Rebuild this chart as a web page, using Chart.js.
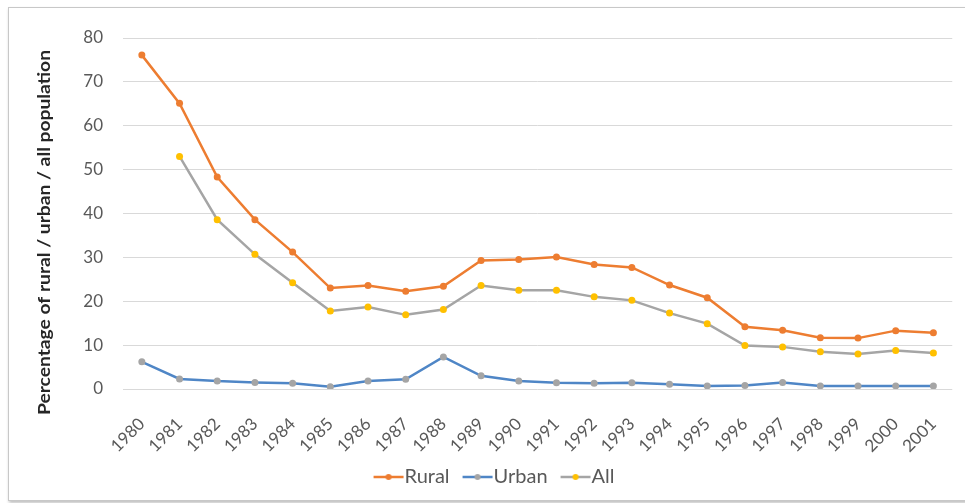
<!DOCTYPE html>
<html>
<head>
<meta charset="utf-8">
<script src="https://cdn.jsdelivr.net/npm/chart.js@4.4.1/dist/chart.umd.min.js"></script>
<style>
  html, body { margin: 0; padding: 0; background: #fff; width: 965px; height: 503px; overflow: hidden; }
  #frame { position: absolute; left: 8px; top: 7px; width: 980px; height: 492px;
           border: 1px solid #c8c8c8; box-shadow: 1px 2px 3px rgba(0,0,0,0.25); background: #fff; }
  #wrap { position: absolute; left: 0; top: 0; width: 965px; height: 503px; }
</style>
</head>
<body>
<div id="frame"></div>
<div id="wrap"><canvas id="chart"></canvas></div>
<script>
// Years on the category axis
const years = ['1980','1981','1982','1983','1984','1985','1986','1987','1988','1989','1990',
               '1991','1992','1993','1994','1995','1996','1997','1998','1999','2000','2001'];

// Share of each population group (%)
const rural = [76.1, 65.1, 48.3, 38.6, 31.2, 23.0, 23.6, 22.3, 23.4, 29.3, 29.5,
               30.1, 28.4, 27.7, 23.7, 20.8, 14.2, 13.4, 11.7, 11.6, 13.3, 12.8];
const urban = [6.2, 2.3, 1.8, 1.5, 1.3, 0.5, 1.8, 2.2, 7.3, 3.0, 1.8,
               1.4, 1.3, 1.4, 1.1, 0.7, 0.8, 1.5, 0.7, 0.7, 0.7, 0.7];
const allPop = [null, 53.0, 38.6, 30.7, 24.2, 17.8, 18.7, 16.9, 18.1, 23.6, 22.5,
                22.5, 21.0, 20.2, 17.3, 14.9, 9.9, 9.6, 8.5, 8.0, 8.8, 8.2];

// Value axis range
const yMin = 0, yMax = 80, yStep = 10;

const yTitle = 'Percentage of rural / urban / all population';
const FONT = 'Lato, "Open Sans", sans-serif';

const C_ORANGE = '#ED7D31';
const C_BLUE = '#4F86C6';
const C_GRAY = '#A5A5A5';
const C_GOLD = '#FFC000';

// Small line-with-marker swatches for the legend
function legendIcon(lineColor, dotColor) {
  const cv = document.createElement('canvas');
  cv.width = 60; cv.height = 10;
  const g = cv.getContext('2d');
  g.strokeStyle = lineColor; g.lineWidth = 2.5;
  g.beginPath(); g.moveTo(20, 5); g.lineTo(50, 5); g.stroke();
  g.fillStyle = dotColor;
  g.beginPath(); g.arc(35, 5, 3, 0, Math.PI * 2); g.fill();
  return cv;
}
const icons = [legendIcon(C_ORANGE, C_ORANGE), legendIcon(C_BLUE, C_GRAY), legendIcon(C_GRAY, C_GOLD)];

// Rotated value-axis title beside the tick labels, stretched to a fixed run length
const TITLE_LEN = 365;
const yTitlePlugin = {
  id: 'yTitle',
  afterDraw(chart) {
    const { ctx, chartArea } = chart;
    ctx.save();
    ctx.font = 'bold 17px ' + FONT;
    const w = ctx.measureText(yTitle).width;
    ctx.translate(chartArea.left - 78, (chartArea.top + chartArea.bottom) / 2 + 19);
    ctx.rotate(-Math.PI / 2);
    ctx.scale(TITLE_LEN / w, 1);
    ctx.fillStyle = '#262626';
    ctx.textAlign = 'center';
    ctx.textBaseline = 'middle';
    ctx.fillText(yTitle, 0, 0);
    ctx.restore();
  }
};

const common = { borderWidth: 2.5, pointRadius: 3.5, pointHoverRadius: 3.5, pointBorderWidth: 0, tension: 0 };

new Chart(document.getElementById('chart'), {
  type: 'line',
  data: {
    labels: years,
    datasets: [
      Object.assign({ label: 'Rural', data: rural, borderColor: C_ORANGE, pointBackgroundColor: C_ORANGE, pointBorderColor: C_ORANGE }, common),
      Object.assign({ label: 'Urban', data: urban, borderColor: C_BLUE, pointBackgroundColor: C_GRAY, pointBorderColor: C_GRAY }, common),
      Object.assign({ label: 'All', data: allPop, borderColor: C_GRAY, pointBackgroundColor: C_GOLD, pointBorderColor: C_GOLD }, common)
    ]
  },
  options: {
    responsive: true,
    maintainAspectRatio: false,
    animation: false,
    layout: { padding: { left: 30, right: 8, top: 38, bottom: 6 } },
    scales: {
      x: {
        offset: true,
        grid: { display: false },
        border: { display: false },
        ticks: { color: '#595959', font: { family: FONT, size: 17 }, minRotation: 45, maxRotation: 45, padding: 17, autoSkip: false },
        afterFit(s) { s.height = 66; }
      },
      y: {
        min: yMin, max: yMax,
        grid: { color: '#D9D9D9', lineWidth: 1, drawTicks: false },
        border: { display: false },
        ticks: { stepSize: yStep, color: '#595959', font: { family: FONT, size: 17 }, padding: 20 },
        afterFit(s) { s.width = 93; }
      }
    },
    plugins: {
      legend: {
        position: 'bottom',
        labels: {
          usePointStyle: true,
          pointStyleWidth: 22,
          padding: 12,
          color: '#595959',
          font: { family: FONT, size: 20 },
          generateLabels(chart) {
            const items = Chart.defaults.plugins.legend.labels.generateLabels(chart);
            items.forEach((it, i) => { it.pointStyle = icons[i]; it.rotation = 0; });
            return items;
          }
        }
      },
      tooltip: { enabled: false }
    }
  },
  plugins: [yTitlePlugin]
});
</script>
</body>
</html>
